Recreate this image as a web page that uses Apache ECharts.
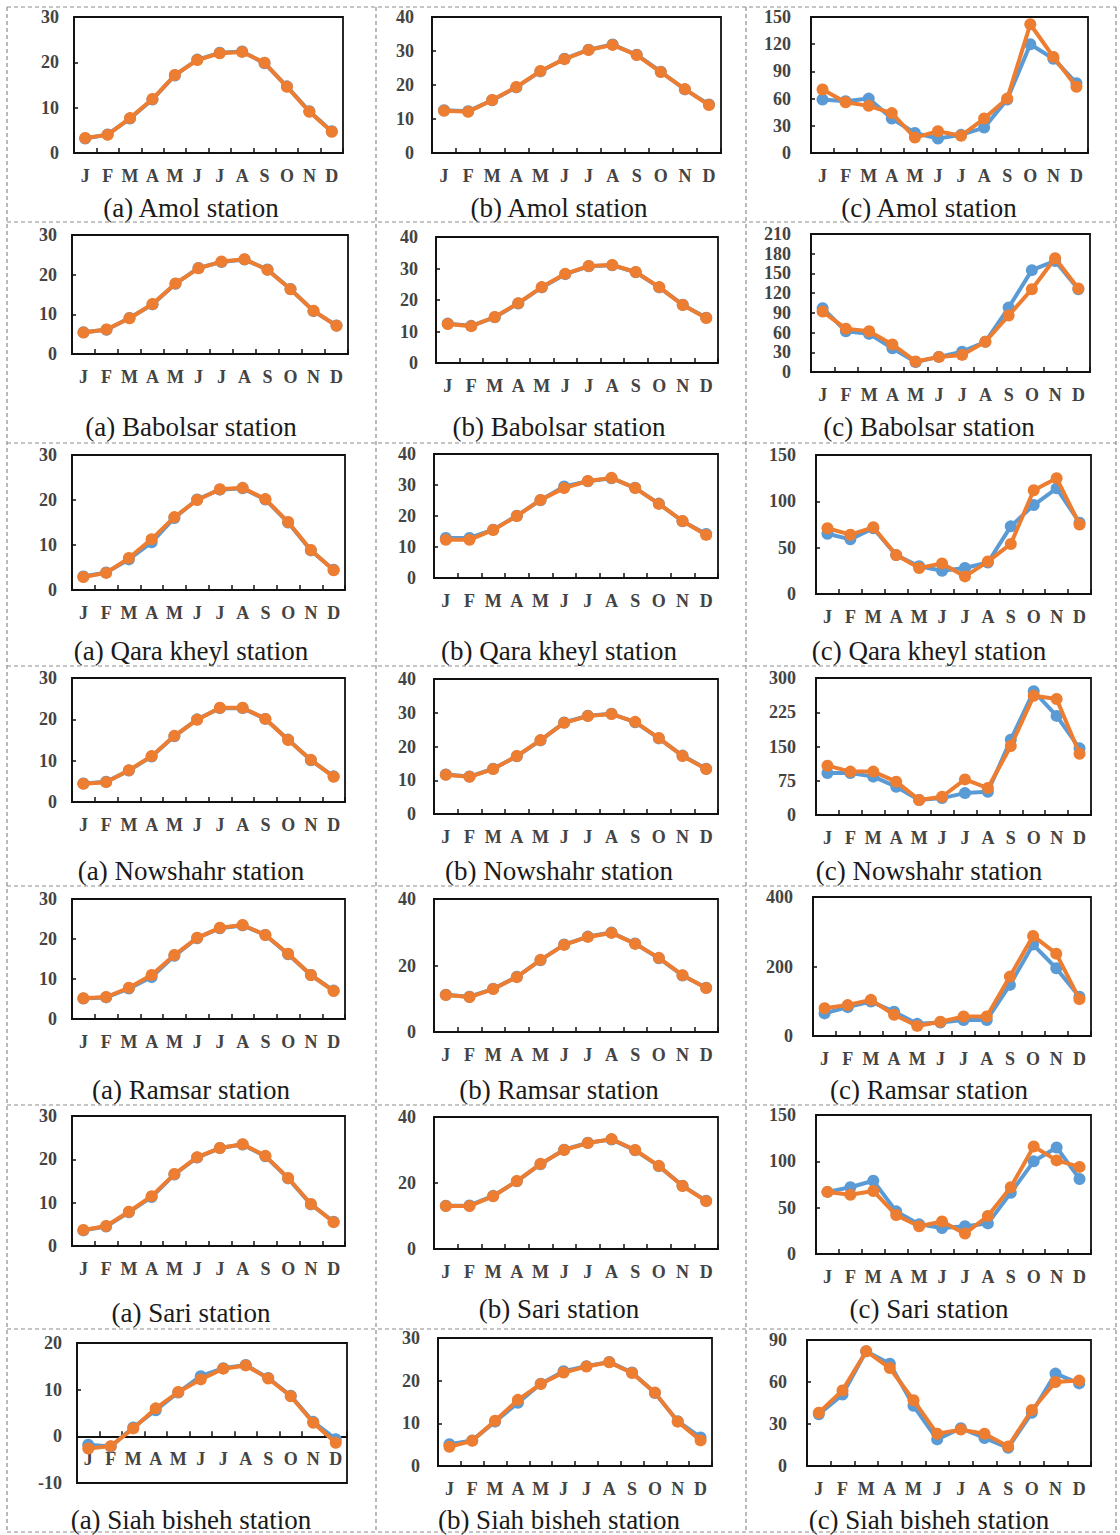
<!DOCTYPE html>
<html>
<head>
<meta charset="utf-8">
<script src="https://cdn.jsdelivr.net/npm/echarts@6/dist/echarts.min.js"></script>
<style>
  html, body { margin: 0; padding: 0; background: #fff; }
  #chart { width: 1120px; height: 1535px; }
</style>
</head>
<body>
<div id="chart"></div>
<script>
// Month initials shared by every panel
const months = ['J', 'F', 'M', 'A', 'M', 'J', 'J', 'A', 'S', 'O', 'N', 'D'];

// Station names, one per row
const stations = ['Amol', 'Babolsar', 'Qara kheyl', 'Nowshahr', 'Ramsar', 'Sari', 'Siah bisheh'];

// (a) mean temperature
const amolTempObs   = [3.2, 4.1, 7.6, 11.8, 17.1, 20.6, 22.1, 22.4, 19.8, 14.7, 9.2, 4.8];
const amolTempSim   = [3.3, 4.0, 7.7, 11.9, 17.2, 20.5, 22.0, 22.3, 19.9, 14.6, 9.1, 4.7];
const babolTempObs  = [5.5, 6.1, 9.1, 12.5, 17.7, 21.7, 23.2, 23.8, 21.3, 16.4, 10.8, 7.2];
const babolTempSim  = [5.4, 6.2, 9.0, 12.6, 17.8, 21.6, 23.3, 23.9, 21.2, 16.3, 10.9, 7.1];
const qaraTempObs   = [3.0, 3.9, 6.8, 10.6, 16.0, 20.1, 22.3, 22.6, 20.1, 15.0, 8.8, 4.5];
const qaraTempSim   = [2.9, 3.8, 7.1, 11.3, 16.2, 20.0, 22.4, 22.7, 20.2, 15.1, 8.9, 4.4];
const nowTempObs    = [4.5, 4.9, 7.6, 11.0, 15.9, 20.0, 22.7, 22.7, 20.1, 15.1, 10.1, 6.2];
const nowTempSim    = [4.4, 4.8, 7.7, 11.1, 16.0, 19.9, 22.8, 22.8, 20.1, 15.0, 10.2, 6.1];
const ramTempObs    = [5.1, 5.4, 7.6, 10.5, 15.8, 20.2, 22.7, 23.4, 21.0, 16.2, 11.0, 7.1];
const ramTempSim    = [5.2, 5.5, 7.8, 11.0, 16.0, 20.3, 22.8, 23.5, 21.0, 16.3, 11.0, 7.0];
const sariTempObs   = [3.6, 4.5, 7.8, 11.3, 16.5, 20.4, 22.6, 23.4, 20.7, 15.6, 9.6, 5.6];
const sariTempSim   = [3.7, 4.6, 7.9, 11.5, 16.6, 20.5, 22.6, 23.5, 20.8, 15.7, 9.7, 5.5];
const siahTempObs   = [-1.8, -2.2, 1.9, 5.6, 9.4, 12.9, 14.6, 15.3, 12.5, 8.7, 3.1, -0.6];
const siahTempSim   = [-2.6, -2.1, 1.7, 6.0, 9.5, 12.2, 14.5, 15.2, 12.4, 8.6, 2.9, -1.4];

// (b) maximum temperature
const amolTmaxObs   = [12.6, 12.3, 15.5, 19.3, 24.0, 27.7, 30.4, 31.9, 28.9, 23.9, 18.7, 14.3];
const amolTmaxSim   = [12.4, 12.1, 15.6, 19.4, 24.1, 27.6, 30.3, 31.8, 28.8, 23.8, 18.8, 14.1];
const babolTmaxObs  = [12.5, 11.8, 14.5, 18.9, 24.0, 28.2, 30.7, 31.0, 28.8, 24.0, 18.5, 14.4];
const babolTmaxSim  = [12.4, 11.7, 14.6, 19.0, 24.1, 28.3, 30.8, 31.1, 28.9, 24.1, 18.4, 14.3];
const qaraTmaxObs   = [12.9, 12.9, 15.6, 20.1, 25.1, 29.5, 31.2, 32.2, 29.1, 24.0, 18.3, 14.2];
const qaraTmaxSim   = [12.3, 12.3, 15.5, 20.0, 25.2, 29.0, 31.3, 32.3, 29.0, 23.9, 18.4, 13.9];
const nowTmaxObs    = [11.7, 11.1, 13.4, 17.1, 21.8, 27.1, 29.1, 29.7, 27.2, 22.4, 17.3, 13.4];
const nowTmaxSim    = [11.6, 11.0, 13.3, 17.2, 21.9, 27.0, 29.0, 29.6, 27.3, 22.5, 17.2, 13.3];
const ramTmaxObs    = [11.2, 10.6, 13.0, 16.6, 21.6, 26.3, 28.7, 29.9, 26.6, 22.2, 17.0, 13.3];
const ramTmaxSim    = [11.1, 10.5, 12.9, 16.5, 21.7, 26.2, 28.6, 29.8, 26.5, 22.3, 17.1, 13.2];
const sariTmaxObs   = [13.1, 13.2, 16.1, 20.5, 25.7, 30.1, 32.2, 33.2, 29.9, 25.1, 19.2, 14.6];
const sariTmaxSim   = [13.0, 13.0, 16.0, 20.6, 25.8, 30.0, 32.1, 33.3, 30.0, 25.2, 19.1, 14.5];
const siahTmaxObs   = [5.1, 6.0, 10.4, 14.8, 19.3, 22.2, 23.4, 24.4, 21.9, 17.1, 10.5, 6.7];
const siahTmaxSim   = [4.5, 5.9, 10.6, 15.5, 19.2, 21.9, 23.3, 24.3, 21.8, 17.2, 10.4, 6.0];

// (c) precipitation
const amolPrecipObs  = [59, 57, 60, 38, 22, 16, 20, 28, 59, 120, 104, 77];
const amolPrecipSim  = [70, 56, 52, 44, 17, 24, 19, 38, 60, 142, 106, 73];
const babolPrecipObs = [97, 62, 58, 36, 15, 23, 31, 46, 98, 155, 169, 126];
const babolPrecipSim = [92, 66, 62, 42, 16, 23, 26, 46, 86, 126, 173, 127];
const qaraPrecipObs  = [65, 59, 71, 42, 30, 25, 28, 34, 73, 96, 114, 77];
const qaraPrecipSim  = [71, 64, 72, 42, 28, 33, 19, 35, 54, 112, 125, 75];
const nowPrecipObs   = [92, 92, 84, 62, 33, 37, 48, 51, 165, 271, 217, 146];
const nowPrecipSim   = [108, 95, 95, 73, 33, 40, 78, 59, 151, 261, 254, 134];
const ramPrecipObs   = [65, 83, 99, 70, 35, 39, 46, 46, 147, 263, 195, 113];
const ramPrecipSim   = [80, 89, 104, 61, 29, 41, 56, 56, 171, 288, 237, 106];
const sariPrecipObs  = [67, 72, 79, 46, 32, 28, 30, 33, 66, 100, 115, 81];
const sariPrecipSim  = [67, 64, 68, 42, 30, 35, 22, 41, 72, 116, 101, 94];
const siahPrecipObs  = [37, 51, 82, 73, 43, 19, 27, 20, 13, 38, 66, 59];
const siahPrecipSim  = [38, 54, 82, 70, 47, 23, 26, 23, 14, 40, 60, 61];

// Axis ranges per row: [min, max, interval] for columns a, b, c
const scales = [
  [[0, 30, 10], [0, 40, 10], [0, 150, 30]],
  [[0, 30, 10], [0, 40, 10], [0, 210, 30]],
  [[0, 30, 10], [0, 40, 10], [0, 150, 50]],
  [[0, 30, 10], [0, 40, 10], [0, 300, 75]],
  [[0, 30, 10], [0, 40, 20], [0, 400, 200]],
  [[0, 30, 10], [0, 40, 20], [0, 150, 50]],
  [[-10, 20, 10], [0, 30, 10], [0, 90, 30]]
];

// Series per row and column: [observed, simulated]
const panelData = [
  [[amolTempObs, amolTempSim], [amolTmaxObs, amolTmaxSim], [amolPrecipObs, amolPrecipSim]],
  [[babolTempObs, babolTempSim], [babolTmaxObs, babolTmaxSim], [babolPrecipObs, babolPrecipSim]],
  [[qaraTempObs, qaraTempSim], [qaraTmaxObs, qaraTmaxSim], [qaraPrecipObs, qaraPrecipSim]],
  [[nowTempObs, nowTempSim], [nowTmaxObs, nowTmaxSim], [nowPrecipObs, nowPrecipSim]],
  [[ramTempObs, ramTempSim], [ramTmaxObs, ramTmaxSim], [ramPrecipObs, ramPrecipSim]],
  [[sariTempObs, sariTempSim], [sariTmaxObs, sariTmaxSim], [sariPrecipObs, sariPrecipSim]],
  [[siahTempObs, siahTempSim], [siahTmaxObs, siahTmaxSim], [siahPrecipObs, siahPrecipSim]]
];

// Plot rectangles [x0, y0, x1, y1] for each panel, and caption centre per row
const boxes = [
  [[74, 17, 343, 153], [432, 17, 721, 153], [811, 17, 1088, 153]],
  [[72, 235, 348, 354], [436, 237, 718, 363], [811, 234, 1090, 372]],
  [[72, 455, 345, 590], [434, 454, 718, 578], [816, 455, 1091, 594]],
  [[72, 678, 345, 802], [434, 679, 718, 814], [816, 678, 1091, 815]],
  [[72, 899, 345, 1019], [434, 899, 718, 1032], [813, 897, 1091, 1036]],
  [[72, 1116, 345, 1246], [434, 1117, 718, 1249], [816, 1115, 1091, 1254]],
  [[77, 1343, 347, 1483], [438, 1338, 712, 1466], [807, 1340, 1091, 1466]]
];
const captionY = [
  [208, 208, 208],
  [427, 427, 427],
  [651, 651, 651],
  [871, 871, 871],
  [1090, 1090, 1090],
  [1313, 1309, 1309],
  [1520, 1520, 1520]
];
const captionX = [191, 559, 929];
const letters = ['(a)', '(b)', '(c)'];
const yLabelMargin = [15, 18, 20];

const serif = '"Liberation Serif", "DejaVu Serif", serif';
const blue = '#5B9BD5';
const orange = '#ED7D31';

const grids = [], xAxes = [], yAxes = [], series = [], graphics = [];

boxes.forEach((row, r) => {
  row.forEach((b, c) => {
    const idx = grids.length;
    const [mn, mx, step] = scales[r][c];
    const h = b[3] - b[1];
    // when the range dips below zero the category axis sits on the zero line
    const zeroShift = mn < 0 ? -h * (0 - mn) / (mx - mn) : 0;
    grids.push({
      left: b[0], top: b[1], width: b[2] - b[0], height: h,
      show: true, borderColor: '#111', borderWidth: 1.8, backgroundColor: 'transparent',
      containLabel: false
    });
    xAxes.push({
      type: 'category', gridIndex: idx, data: months, boundaryGap: true,
      offset: zeroShift,
      axisLine: { show: true, onZero: false, lineStyle: { color: '#111', width: 1.8 } },
      axisTick: { show: true, inside: true, length: 5, lineStyle: { color: '#111', width: 1.5 } },
      axisLabel: { interval: 0, margin: 14, color: '#444', fontFamily: serif, fontSize: 18, fontWeight: 'bold' },
      splitLine: { show: false }
    });
    yAxes.push({
      type: 'value', gridIndex: idx, min: mn, max: mx, interval: step,
      axisLine: { show: true, lineStyle: { color: '#111', width: 1.8 } },
      axisTick: { show: true, inside: true, length: 4, lineStyle: { color: '#111', width: 1.5 } },
      axisLabel: { margin: yLabelMargin[c], color: '#444', fontFamily: serif, fontSize: 18, fontWeight: 'bold' },
      splitLine: { show: false }
    });
    const [obs, sim] = panelData[r][c];
    [[obs, blue], [sim, orange]].forEach(([d, col], k) => {
      series.push({
        type: 'line', xAxisIndex: idx, yAxisIndex: idx, data: d,
        symbol: 'circle', symbolSize: 12, z: 2 + k,
        lineStyle: { color: col, width: 4 },
        itemStyle: { color: col },
        emphasis: { disabled: true },
        animation: false
      });
    });
    graphics.push({
      type: 'text', x: captionX[c], y: captionY[r][c],
      style: {
        text: letters[c] + ' ' + stations[r] + ' station',
        x: 0, y: 0, align: 'center', verticalAlign: 'middle',
        fontFamily: serif, fontSize: 27, fill: '#1a1a1a'
      }
    });
  });
});

// Dashed frame separating the panels
const vLines = [7, 376, 746, 1116];
const hLines = [7, 222, 443, 666, 886, 1105, 1329, 1532];
const dash = { stroke: '#8c8c8c', lineWidth: 1.2, lineDash: [4, 3] };
vLines.forEach(x => graphics.push({ type: 'line', shape: { x1: x, y1: hLines[0], x2: x, y2: hLines[hLines.length - 1] }, style: dash, silent: true }));
hLines.forEach(y => graphics.push({ type: 'line', shape: { x1: vLines[0], y1: y, x2: vLines[vLines.length - 1], y2: y }, style: dash, silent: true }));

const chart = echarts.init(document.getElementById('chart'), null, { renderer: 'svg', width: 1120, height: 1535 });
chart.setOption({
  animation: false,
  backgroundColor: '#fff',
  grid: grids,
  xAxis: xAxes,
  yAxis: yAxes,
  series: series,
  graphic: graphics
});
</script>
</body>
</html>
